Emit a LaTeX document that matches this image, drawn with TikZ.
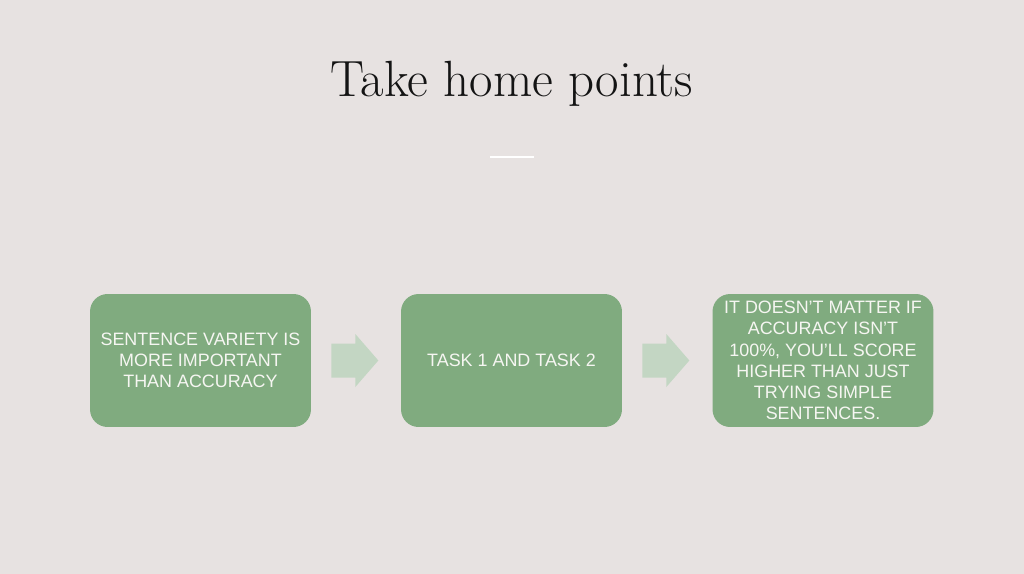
\documentclass[tikz,border=0pt]{standalone}
\usepackage{fontspec}
\newfontfamily\boxfont{Liberation Sans}
\usetikzlibrary{calc}
\definecolor{slidebg}{RGB}{231,226,225}
\definecolor{boxgreen}{RGB}{128,171,127}
\definecolor{arrowgreen}{RGB}{195,214,195}
\definecolor{boxtext}{RGB}{246,246,242}

\begin{document}
\begin{tikzpicture}[x=0.02cm,y=-0.02cm,pointbox/.style={rounded corners=10pt,fill=boxgreen,align=center,text=boxtext,font=\boxfont\fontsize{10.2}{12.1}\selectfont,minimum width=4.42cm,minimum height=2.66cm,inner sep=0pt},blockarrow/.style={fill=arrowgreen},title/.style={font=\fontsize{29}{34}\selectfont,text=black!92}]
\useasboundingbox[fill=slidebg] (0,0) rectangle (1024,574);
\node[title, anchor=base] (heading) at (512,97) {Take home points};
\coordinate (ruleleft) at (490,157);\coordinate (ruleright) at (534,157);
\draw[white, line width=0.6pt] (ruleleft) -- (ruleright);
\node[pointbox] (variety) at (200.5,360.5) {SENTENCE VARIETY IS\\MORE IMPORTANT\\THAN ACCURACY};
\node[pointbox] (tasks) at (511.5,360.5) {TASK 1 AND TASK 2};
\node[pointbox] (score) at (823,360.5) {IT DOESN’T MATTER IF\\ACCURACY ISN’T\\100\%, YOU’LL SCORE\\HIGHER THAN JUST\\TRYING SIMPLE\\SENTENCES.};
\foreach \from in {variety,tasks}
  \fill[blockarrow] ($(\from.east)+(20,-17)$) -- ($(\from.east)+(44,-17)$) -- ($(\from.east)+(44,-26.5)$) -- ($(\from.east)+(67,0)$) -- ($(\from.east)+(44,26.5)$) -- ($(\from.east)+(44,17)$) -- ($(\from.east)+(20,17)$) -- cycle;
\end{tikzpicture}
\end{document}
